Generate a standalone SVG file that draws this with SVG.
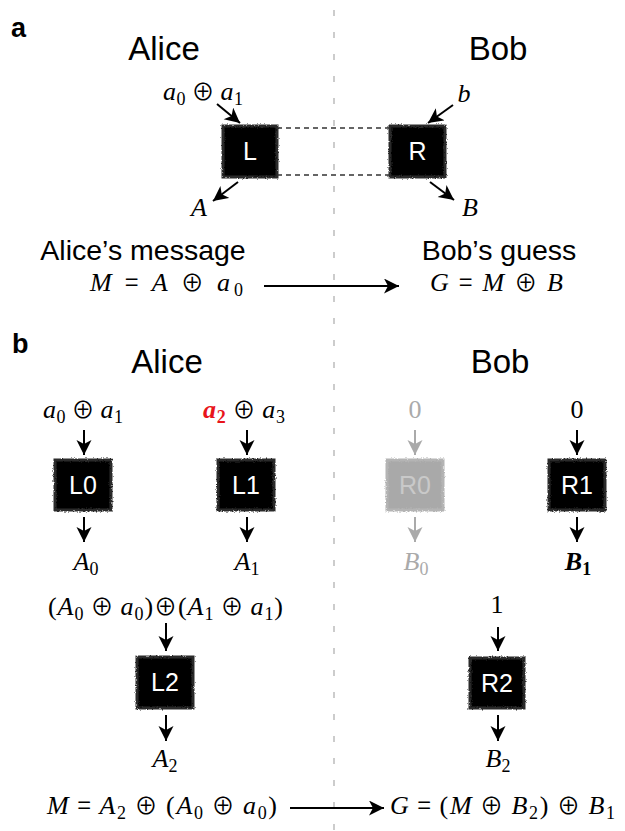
<svg xmlns="http://www.w3.org/2000/svg" width="625" height="831" viewBox="0 0 625 831">
<style>
.bg{fill:#fff}
.panel{font-family:"Liberation Sans",Arial,sans-serif;font-weight:bold;font-size:27px;fill:#000}
.hdr{font-family:"Liberation Sans",Arial,sans-serif;font-size:33px;fill:#000;text-anchor:middle}
.lbl{font-family:"Liberation Sans",Arial,sans-serif;font-size:28.5px;fill:#000;text-anchor:middle}
.bt{font-family:"Liberation Sans",Arial,sans-serif;font-size:25px;fill:#fff;text-anchor:middle}
.m{font-family:"Liberation Serif","DejaVu Serif",serif;font-size:26px;fill:#000;text-anchor:middle}
.i{font-style:italic}
.s{font-size:18px}
.op{font-family:"Noto Sans CJK SC","DejaVu Sans",sans-serif;font-size:24px}
.ox{font-family:"Noto Sans CJK SC","DejaVu Sans",sans-serif;font-size:23px;font-weight:normal}
.box{fill:#000;stroke:#2a2a2a;stroke-width:3}
.gbox{fill:#a9a9a9;stroke:#b4b4b4;stroke-width:3}
.grey{fill:#aaa}
.gt{fill:#c9c9c9}
.arr{stroke:#000;stroke-width:2;fill:none;marker-end:url(#ah)}
.garr{stroke:#aaa;stroke-width:2;fill:none;marker-end:url(#gah)}
.dash{stroke:#333;stroke-width:1.5;stroke-dasharray:5 4;fill:none}
.div{stroke:#999;stroke-width:1;stroke-dasharray:6 16;fill:none}
</style>
<defs>
<filter id="rough" x="-10%" y="-10%" width="120%" height="120%">
<feTurbulence type="fractalNoise" baseFrequency="0.8" numOctaves="2" seed="3" result="n"/>
<feDisplacementMap in="SourceGraphic" in2="n" scale="3" xChannelSelector="R" yChannelSelector="G"/>
</filter>
<marker id="ah" markerUnits="userSpaceOnUse" markerWidth="17" markerHeight="16" refX="15" refY="7.5" orient="auto">
<path d="M0,0 L15,7.5 L0,15 L4,7.5 Z" fill="#000"/>
</marker>
<marker id="gah" markerUnits="userSpaceOnUse" markerWidth="17" markerHeight="16" refX="15" refY="7.5" orient="auto">
<path d="M0,0 L15,7.5 L0,15 L4,7.5 Z" fill="#aaa"/>
</marker>
</defs>
<rect class="bg" x="0" y="0" width="625" height="831"/>

<line class="div" x1="334" y1="10" x2="334" y2="831"/>

<g id="panel-a">
<text class="panel" x="11" y="37">a</text>
<text class="hdr" x="164" y="60">Alice</text>
<text class="hdr" x="498" y="60">Bob</text>
<text class="lbl" x="143" y="260">Alice’s message</text>
<text class="lbl" x="499" y="260">Bob’s guess</text>
<text class="m" x="203" y="100" textLength="80" lengthAdjust="spacing"><tspan class="i">a</tspan><tspan class="s" dy="5">0</tspan><tspan class="ox" dy="-5"> ⊕ </tspan><tspan class="i">a</tspan><tspan class="s" dy="5">1</tspan></text>
<text class="m i" x="199" y="216">A</text>
<text class="m i" x="464" y="102">b</text>
<text class="m i" x="470" y="216">B</text>
<text class="m" x="166.5" y="291" textLength="153" lengthAdjust="spacing"><tspan class="i">M</tspan><tspan class="op"> = </tspan><tspan class="i">A</tspan><tspan class="ox"> ⊕ </tspan><tspan class="i">a</tspan><tspan class="s" dy="5">0</tspan></text>
<text class="m" x="496.5" y="291" textLength="133" lengthAdjust="spacing"><tspan class="i">G</tspan><tspan class="op"> = </tspan><tspan class="i">M</tspan><tspan class="ox"> ⊕ </tspan><tspan class="i">B</tspan></text>
</g>

<g id="node-L">
<rect class="box" filter="url(#rough)" x="223" y="126" width="54" height="51"/>
<text class="bt" x="250" y="160">L</text>
</g>
<g id="node-R">
<rect class="box" filter="url(#rough)" x="390" y="126" width="55" height="51"/>
<text class="bt" x="417.5" y="160">R</text>
</g>

<g id="panel-b">
<text class="panel" x="12" y="353">b</text>
<text class="hdr" x="167" y="373">Alice</text>
<text class="hdr" x="500" y="373">Bob</text>
<text class="m" x="83" y="418" textLength="80" lengthAdjust="spacing"><tspan class="i">a</tspan><tspan class="s" dy="5">0</tspan><tspan class="ox" dy="-5"> ⊕ </tspan><tspan class="i">a</tspan><tspan class="s" dy="5">1</tspan></text>
<text class="m" x="244" y="418" textLength="82" lengthAdjust="spacing"><tspan class="i" style="fill:#e8141b;font-weight:bold">a</tspan><tspan class="s" dy="5" style="fill:#e8141b;font-weight:bold">2</tspan><tspan class="ox" dy="-5"> ⊕ </tspan><tspan class="i">a</tspan><tspan class="s" dy="5">3</tspan></text>
<text class="m grey" x="415" y="418">0</text>
<text class="m" x="577" y="418">0</text>
<text class="m" x="86" y="570"><tspan class="i">A</tspan><tspan class="s" dy="5">0</tspan></text>
<text class="m" x="247" y="570"><tspan class="i">A</tspan><tspan class="s" dy="5">1</tspan></text>
<text class="m grey" x="416" y="570"><tspan class="i">B</tspan><tspan class="s" dy="5">0</tspan></text>
<text class="m" x="578" y="570" style="font-weight:bold"><tspan class="i">B</tspan><tspan class="s" dy="5">1</tspan></text>
<text class="m" x="165.5" y="615" textLength="235" lengthAdjust="spacing">(<tspan class="i">A</tspan><tspan class="s" dy="5">0</tspan><tspan class="ox" dy="-5"> ⊕ </tspan><tspan class="i">a</tspan><tspan class="s" dy="5">0</tspan><tspan dy="-5">)</tspan><tspan class="ox">⊕</tspan>(<tspan class="i">A</tspan><tspan class="s" dy="5">1</tspan><tspan class="ox" dy="-5"> ⊕ </tspan><tspan class="i">a</tspan><tspan class="s" dy="5">1</tspan><tspan dy="-5">)</tspan></text>
<text class="m" x="497" y="613">1</text>
<text class="m" x="165" y="767"><tspan class="i">A</tspan><tspan class="s" dy="5">2</tspan></text>
<text class="m" x="498" y="767"><tspan class="i">B</tspan><tspan class="s" dy="5">2</tspan></text>
<text class="m" x="162" y="814" textLength="230" lengthAdjust="spacing"><tspan class="i">M</tspan><tspan class="op"> = </tspan><tspan class="i">A</tspan><tspan class="s" dy="5">2</tspan><tspan class="ox" dy="-5"> ⊕ </tspan>(<tspan class="i">A</tspan><tspan class="s" dy="5">0</tspan><tspan class="ox" dy="-5"> ⊕ </tspan><tspan class="i">a</tspan><tspan class="s" dy="5">0</tspan><tspan dy="-5">)</tspan></text>
<text class="m" x="502.5" y="814" textLength="225" lengthAdjust="spacing"><tspan class="i">G</tspan><tspan class="op"> = </tspan>(<tspan class="i">M</tspan><tspan class="ox"> ⊕ </tspan><tspan class="i">B</tspan><tspan class="s" dy="5">2</tspan><tspan dy="-5">)</tspan><tspan class="ox"> ⊕ </tspan><tspan class="i">B</tspan><tspan class="s" dy="5">1</tspan></text>
</g>

<g id="node-L0">
<rect class="box" filter="url(#rough)" x="55" y="460" width="56" height="50"/>
<text class="bt" x="83" y="494">L0</text>
</g>
<g id="node-L1">
<rect class="box" filter="url(#rough)" x="218" y="460" width="56" height="50"/>
<text class="bt" x="246" y="494">L1</text>
</g>
<g id="node-R0">
<rect class="gbox" filter="url(#rough)" x="387" y="460" width="56" height="50"/>
<text class="bt gt" x="415" y="494">R0</text>
</g>
<g id="node-R1">
<rect class="box" filter="url(#rough)" x="549" y="460" width="56" height="50"/>
<text class="bt" x="577" y="494">R1</text>
</g>
<g id="node-L2">
<rect class="box" filter="url(#rough)" x="137" y="657" width="56" height="51"/>
<text class="bt" x="165" y="691">L2</text>
</g>
<g id="node-R2">
<rect class="box" filter="url(#rough)" x="470" y="658" width="54" height="50"/>
<text class="bt" x="497" y="692">R2</text>
</g>

<g id="connectors">
<line class="dash" x1="277" y1="128" x2="390" y2="128"/>
<line class="dash" x1="277" y1="175" x2="390" y2="175"/>
<line class="arr" x1="217" y1="104" x2="240" y2="123"/>
<line class="arr" x1="238" y1="182" x2="213" y2="201"/>
<line class="arr" x1="453" y1="105" x2="428" y2="123"/>
<line class="arr" x1="430" y1="182" x2="454" y2="200"/>
<line class="arr" x1="264" y1="286" x2="399" y2="286"/>
<line class="arr" x1="84" y1="430" x2="84" y2="455"/>
<line class="arr" x1="247" y1="430" x2="247" y2="455"/>
<line class="garr" x1="415" y1="430" x2="415" y2="455"/>
<line class="arr" x1="577" y1="430" x2="577" y2="455"/>
<line class="arr" x1="84" y1="517" x2="84" y2="542"/>
<line class="arr" x1="247" y1="517" x2="247" y2="542"/>
<line class="garr" x1="415" y1="517" x2="415" y2="542"/>
<line class="arr" x1="577" y1="517" x2="577" y2="542"/>
<line class="arr" x1="166" y1="623" x2="166" y2="651"/>
<line class="arr" x1="166" y1="715" x2="166" y2="741"/>
<line class="arr" x1="498" y1="627" x2="498" y2="651"/>
<line class="arr" x1="498" y1="715" x2="498" y2="741"/>
<line class="arr" x1="290" y1="808" x2="384" y2="808"/>
</g>
</svg>
